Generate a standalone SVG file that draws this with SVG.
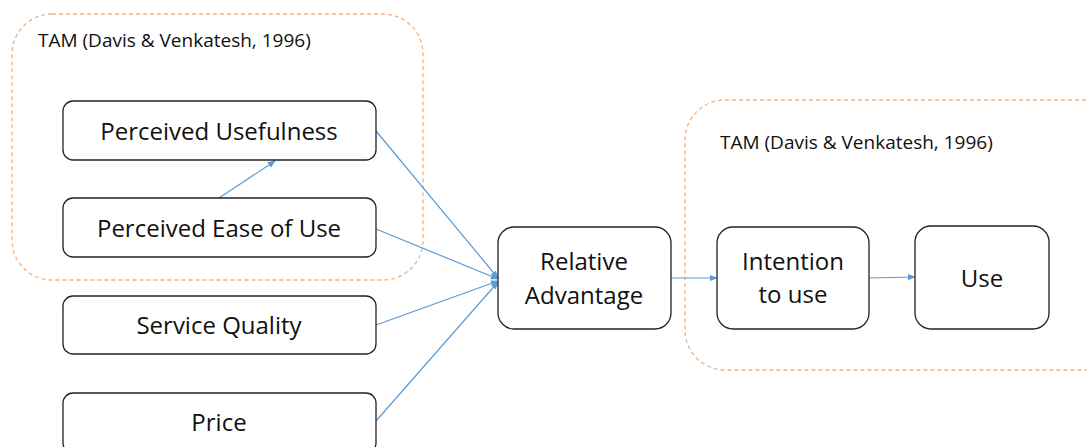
<svg xmlns="http://www.w3.org/2000/svg" width="1087" height="447" viewBox="0 0 1087 447">
<style>
.grp{fill:none;stroke:#F4B183;stroke-width:1.3;stroke-dasharray:4,3}
.node rect{fill:#fff;stroke:#222;stroke-width:1.3}
.node text{font-family:"Open Sans","Liberation Sans",sans-serif;font-size:24px;fill:#111;text-anchor:middle}
.lbl{font-family:"Open Sans","Liberation Sans",sans-serif;font-size:19px;fill:#111}
.con line{stroke:#5B9BD5;stroke-width:1.2;marker-end:url(#ah)}
</style>
<defs>
<marker id="ah" viewBox="0 0 10 10" refX="9" refY="5" markerWidth="8" markerHeight="8" orient="auto" markerUnits="userSpaceOnUse">
<path d="M0,1 L10,5 L0,9 z" fill="#5B9BD5"/>
</marker>
</defs>
<rect width="1087" height="447" fill="#fff"/>
<g id="group-left">
<rect class="grp" x="12" y="14" width="411" height="266" rx="40"/>
<text class="lbl" x="38" y="47">TAM (Davis &amp; Venkatesh, 1996)</text>
</g>
<g id="group-right">
<rect class="grp" x="685" y="100" width="440" height="270" rx="40"/>
<text class="lbl" x="720" y="149">TAM (Davis &amp; Venkatesh, 1996)</text>
</g>
<g class="con" id="connectors">
<line x1="376" y1="131" x2="498" y2="278"/>
<line x1="376" y1="229" x2="498" y2="279"/>
<line x1="376" y1="325" x2="498" y2="281"/>
<line x1="376" y1="421" x2="498" y2="282"/>
<line x1="219" y1="198" x2="275" y2="161"/>
<line x1="671" y1="278" x2="717" y2="278"/>
<line x1="869" y1="278" x2="915" y2="277"/>
</g>
<g class="node" id="pu"><rect x="63" y="101" width="313" height="59" rx="10"/><text x="219" y="140">Perceived Usefulness</text></g>
<g class="node" id="peou"><rect x="63" y="198" width="313" height="59" rx="10"/><text x="219" y="237">Perceived Ease of Use</text></g>
<g class="node" id="sq"><rect x="63" y="296" width="313" height="58" rx="10"/><text x="219" y="334">Service Quality</text></g>
<g class="node" id="price"><rect x="63" y="393" width="313" height="60" rx="10"/><text x="219" y="431">Price</text></g>
<g class="node" id="ra"><rect x="498" y="227" width="173" height="102" rx="16"/><text x="584" y="270">Relative</text><text x="584" y="304">Advantage</text></g>
<g class="node" id="itu"><rect x="717" y="227" width="152" height="102" rx="16"/><text x="793" y="270">Intention</text><text x="793" y="303">to use</text></g>
<g class="node" id="use"><rect x="915" y="226" width="134" height="103" rx="16"/><text x="982" y="287">Use</text></g>
</svg>
